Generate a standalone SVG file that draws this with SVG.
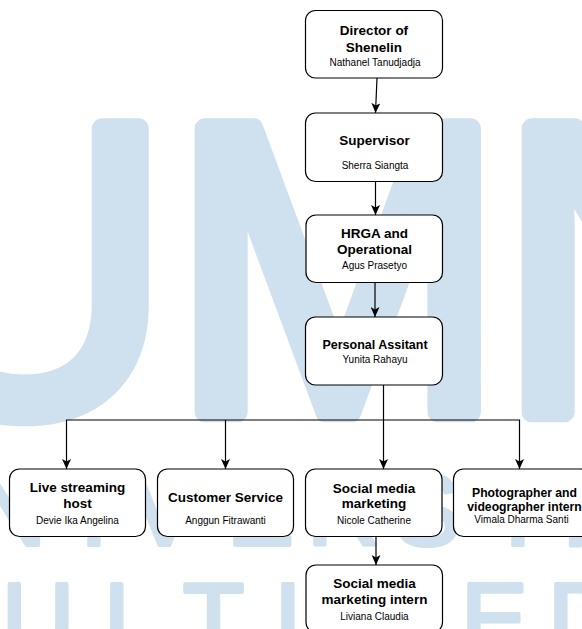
<svg xmlns="http://www.w3.org/2000/svg" width="582" height="629" viewBox="0 0 582 629">
<style>
.wmbig{font-family:"Liberation Sans",Arial,sans-serif;font-size:398px;fill:#cfe0ef;stroke:#cfe0ef;stroke-width:20;stroke-linejoin:round}
.wmsm{font-family:"Liberation Sans",Arial,sans-serif;font-size:100px;fill:#cfe0ef;stroke:#cfe0ef;stroke-width:4;stroke-linejoin:round}
.box{fill:#fff;stroke:#000;stroke-width:1.2}
.t{font-family:"Liberation Sans",Arial,Helvetica,sans-serif;font-weight:bold;font-size:13.5px;text-anchor:middle;fill:#000}
.n{font-family:"Liberation Sans",Arial,Helvetica,sans-serif;font-size:10px;text-anchor:middle;fill:#000}
.c{fill:none;stroke:#000;stroke-width:1.2}
</style>
<defs>
<marker id="arr" markerWidth="10" markerHeight="9" refX="10" refY="4.5" orient="auto" markerUnits="userSpaceOnUse">
<path d="M0,0 L10,4.5 L0,9 L2.5,4.5 Z" fill="#000"/>
</marker>
</defs>
<rect x="0" y="0" width="582" height="629" fill="#fff"/>
<g id="watermark">
<text class="wmbig" x="-118 172 499" y="0" transform="translate(0,412) scale(1,1.035)">UMN</text>
<text class="wmsm" x="-98 -26 80 131 227 307 394 504 545 620 690" y="545">UNIVERSITAS</text>
<text class="wmsm" x="-100 2 104 183 274 340 461 548 640 680" y="653">MULTIMEDIA</text>
</g>
<g id="connectors">
<path class="c" d="M377,78 L375.5,113" marker-end="url(#arr)"/>
<path class="c" d="M375.5,181.5 L375.5,215" marker-end="url(#arr)"/>
<path class="c" d="M375,283 L375,317" marker-end="url(#arr)"/>
<path class="c" d="M383.5,385 L383.5,469" marker-end="url(#arr)"/>
<path class="c" d="M383.5,420 L66.5,420 L66.5,469" marker-end="url(#arr)"/>
<path class="c" d="M225.5,420 L225.5,469" marker-end="url(#arr)"/>
<path class="c" d="M383.5,420 L519.5,420 L519.5,469" marker-end="url(#arr)"/>
<path class="c" d="M376,537 L376,565" marker-end="url(#arr)"/>
</g>
<g id="director">
<rect class="box" x="305.5" y="10.5" width="137" height="67.5" rx="10"/>
<text class="t" x="374" y="35">Director of</text>
<text class="t" x="374" y="51.5">Shenelin</text>
<text class="n" x="375" y="66">Nathanel Tanudjadja</text>
</g>
<g id="supervisor">
<rect class="box" x="305.5" y="113" width="137" height="68.5" rx="10"/>
<text class="t" x="374.5" y="145">Supervisor</text>
<text class="n" x="375" y="169">Sherra Siangta</text>
</g>
<g id="hrga">
<rect class="box" x="306" y="215" width="136.5" height="67.5" rx="10"/>
<text class="t" x="374.5" y="238">HRGA and</text>
<text class="t" x="374.5" y="253.5">Operational</text>
<text class="n" x="374.5" y="269">Agus Prasetyo</text>
</g>
<g id="personal-assistant">
<rect class="box" x="305.5" y="317" width="137" height="68" rx="10"/>
<text class="t" x="375" y="349" style="font-size:12.5px">Personal Assitant</text>
<text class="n" x="375" y="363">Yunita Rahayu</text>
</g>
<g id="live-streaming">
<rect class="box" x="9.5" y="469" width="136" height="67.5" rx="10"/>
<text class="t" x="77.5" y="492">Live streaming</text>
<text class="t" x="77.5" y="508">host</text>
<text class="n" x="77.5" y="524">Devie Ika Angelina</text>
</g>
<g id="customer-service">
<rect class="box" x="157.5" y="469" width="136" height="67.5" rx="10"/>
<text class="t" x="225.5" y="501.5">Customer Service</text>
<text class="n" x="225.5" y="524">Anggun Fitrawanti</text>
</g>
<g id="social-media">
<rect class="box" x="305.5" y="469" width="136.5" height="67.5" rx="10"/>
<text class="t" x="374" y="492.5">Social media</text>
<text class="t" x="374" y="508">marketing</text>
<text class="n" x="374" y="524">Nicole Catherine</text>
</g>
<g id="photographer">
<rect class="box" x="453.5" y="469" width="137" height="67.5" rx="10"/>
<text class="t" x="524.5" y="497" style="font-size:12.2px">Photographer and</text>
<text class="t" x="524.5" y="511" style="font-size:12.2px">videographer intern</text>
<text class="n" x="521.5" y="523">Vimala Dharma Santi</text>
</g>
<g id="social-media-intern">
<rect class="box" x="306" y="565" width="136.5" height="67.5" rx="10"/>
<text class="t" x="374.5" y="588">Social media</text>
<text class="t" x="374.5" y="603.5">marketing intern</text>
<text class="n" x="374.5" y="619.5">Liviana Claudia</text>
</g>
</svg>
